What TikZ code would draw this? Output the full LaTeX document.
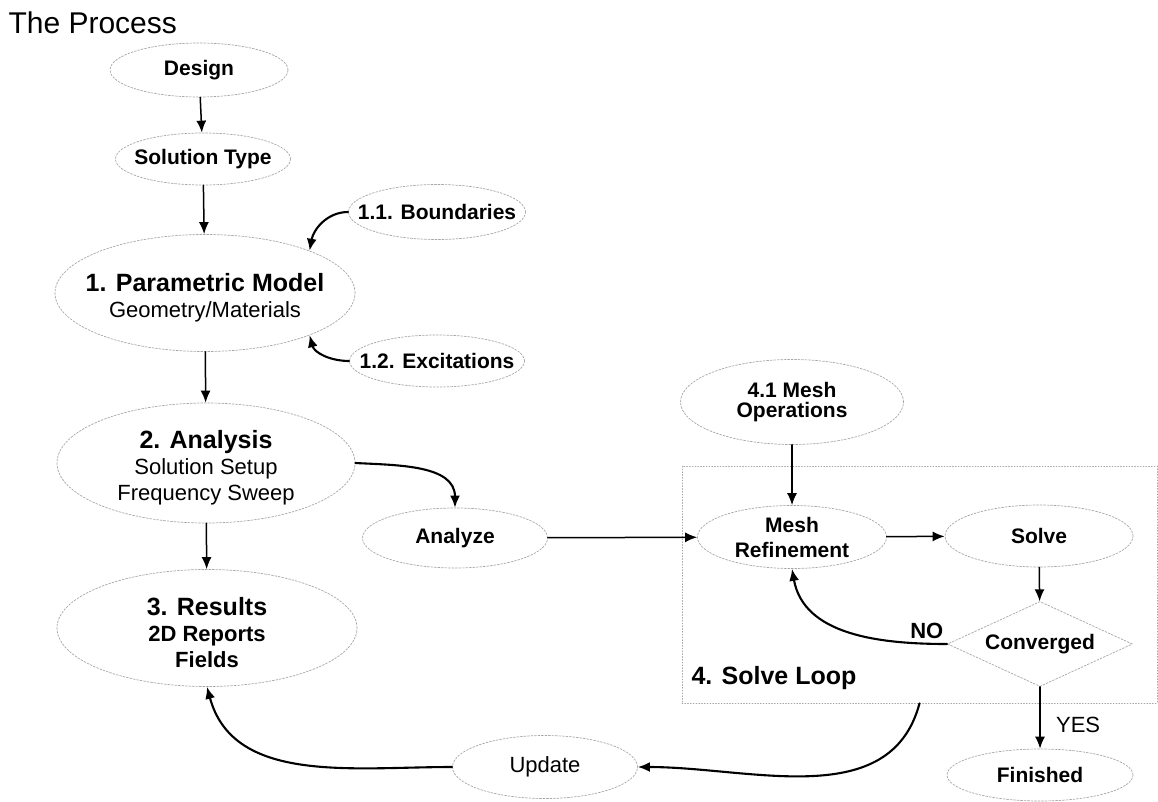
\documentclass[tikz,border=0pt]{standalone}
\usepackage{fontspec}
\setmainfont{Liberation Sans}
\usetikzlibrary{
	arrows.meta, shapes.geometric
}
% renglón de título un poco más alto (baja el texto en la elipse)
\newcommand{\alto}{\rule{0pt}{28pt}}

\begin{document}
\begin{tikzpicture}[
	% Propiedades generales del dibujo
	x = 1pt, y = -1pt,
	line join = round, line cap = round,
	% Definición de nuevos estilos
	% 	a. elipse de cada etapa
	etapa/.style = {
		ellipse, draw = gray!70,
		dash pattern = on 2pt off 1.5pt,
		line width = 0.7pt,
		inner xsep = -25pt, inner ysep = -5pt,
		align = center,
		font = \fontsize{21}{24}\selectfont\bfseries
	},
	% 	b. etapa principal (tres renglones)
	principal/.style = {
		etapa,
		font = \fontsize{22}{26}\selectfont
	},
	%	c. rombo de decisión
	decision/.style = {
		diamond, draw = gray!70,
		dash pattern = on 2pt off 1.5pt,
		line width = 0.7pt,
		inner sep = 0pt, aspect = 2.2,
		font = \fontsize{21}{24}\selectfont\bfseries
	},
	%	d. flechas
	flecha/.style = {
		line width = 1.5pt,
		arrows = -{Latex[length = 12pt, width = 10pt]}
	},
	curva/.style = {
		flecha,
		line width = 2.1pt
	},
]

	% márgenes del dibujo
	\useasboundingbox (0,0) rectangle (1158,802);

	% título
	\node[anchor = west, font = \fontsize{30}{32}\selectfont]
		(titulo) at (5,23) {The Process};

	% lazo de solución (recuadro punteado)
	\node[draw = gray!70, dotted, line width = 0.8pt,
		minimum width = 475, minimum height = 237, inner sep = 0pt]
		(lazo) at (919.5,584.5) {};
	\node[anchor = west, font = \fontsize{25}{28}\selectfont\bfseries]
		(lazotxt) at (688,678) {4. Solve Loop};

	% etapas de la columna izquierda
	\node[etapa, minimum width = 178, minimum height = 54]
		(design) at (199,70) {Design};
	\node[etapa, minimum width = 175, minimum height = 52]
		(soltype) at (203,159) {Solution Type};
	\node[principal, minimum width = 300, minimum height = 117]
		(param) at (205,293)
		{{\fontsize{25}{26}\selectfont\bfseries\alto 1. Parametric Model}\\
		Geometry/Materials};
	\node[principal, minimum width = 298, minimum height = 120]
		(analysis) at (206,463)
		{{\fontsize{25}{26}\selectfont\bfseries\alto 2. Analysis}\\
		Solution Setup\\ Frequency Sweep};
	\node[principal, minimum width = 300, minimum height = 117,
		font = \fontsize{22}{26}\selectfont\bfseries]
		(results) at (207,628)
		{{\fontsize{25}{26}\selectfont\alto 3. Results}\\ 2D Reports\\ Fields};

	% etapas secundarias
	\node[etapa, minimum width = 177, minimum height = 55]
		(bound) at (437,212) {1.1. Boundaries};
	\node[etapa, minimum width = 175, minimum height = 52]
		(excit) at (437,361) {1.2. Excitations};
	\node[etapa, minimum width = 185, minimum height = 60]
		(analyze) at (455,538) {Analyze};
	\node[etapa, minimum width = 185, minimum height = 63,
		font = \fontsize{22}{24}\selectfont]
		(update) at (545,767) {Update};

	% etapas del lazo de solución
	\node[etapa, minimum width = 223, minimum height = 85,
		font = \fontsize{21}{20}\selectfont\bfseries]
		(meshops) at (792,402) {4.1 Mesh\\ Operations};
	\node[etapa, minimum width = 189, minimum height = 63,
		font = \fontsize{21}{25}\selectfont\bfseries]
		(mesh) at (792,537) {Mesh\\ Refinement};
	\node[etapa, minimum width = 188, minimum height = 62]
		(solve) at (1039,536) {Solve};
	\node[decision, minimum width = 185, minimum height = 85]
		(conv) at (1040,644) {Converged};
	\node[etapa, minimum width = 186, minimum height = 52]
		(finished) at (1040,775) {Finished};

	% flechas rectas
	\draw[flecha] (design) -- (soltype);
	\draw[flecha] (soltype) -- (param);
	\draw[flecha] (param) -- (analysis);
	\draw[flecha] (analysis) -- (results);
	\draw[flecha] (analyze) -- (mesh);
	\draw[flecha] (meshops) -- (mesh);
	\draw[flecha] (mesh) -- (solve);
	\draw[flecha] (solve) -- (conv);
	\draw[flecha] (conv) --
		node[pos = 0.62, right = 12pt,
			font = \fontsize{22}{24}\selectfont] {YES}
		(finished);

	% flechas curvas
	\draw[curva] (bound.west) to[out = 180, in = 80] (param.22);
	\draw[curva] (excit.west) to[out = 180, in = -75] (param.-22);
	\draw[curva] (analysis.east) to[out = -3, in = 90] (analyze.north);
	\draw[curva] (conv.west)
		to[out = 180, in = -80]
			node[pos = 0.1, above = 1pt,
				font = \fontsize{22}{24}\selectfont\bfseries] {NO}
		(mesh.south);
	\draw[curva] (lazo.south) to[out = -105, in = 0] (update.east);
	\draw[curva] (update.west) to[out = 180, in = -75] (results.south);

\end{tikzpicture}
\end{document}
